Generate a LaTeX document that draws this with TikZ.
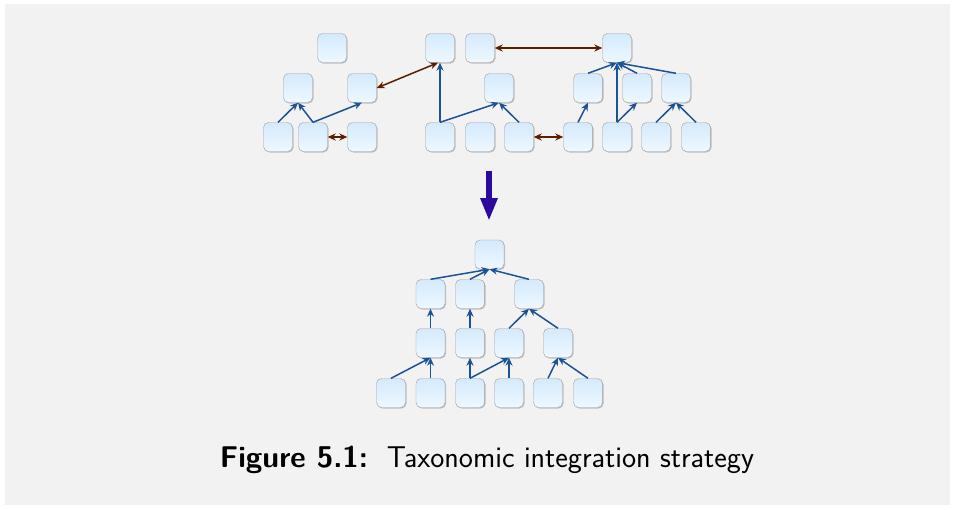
\documentclass[tikz,border=0pt]{standalone}
\usepackage{tikz}
\usetikzlibrary{arrows.meta, shadows, positioning}
\definecolor{boxtop}{HTML}{D4EAFC}
\definecolor{boxbot}{HTML}{EEF8FF}
\definecolor{boxline}{HTML}{A0A0A0}
\definecolor{isacol}{HTML}{1B5394}
\definecolor{matchcol}{HTML}{5A1E00}
\definecolor{mergecol}{HTML}{2C0A9E}
\definecolor{panel}{HTML}{F2F2F2}

\begin{document}
\begin{tikzpicture}[
            x = 1pt, y = 1pt, % pixel grid, y counted downwards as negative
            > = {Stealth[length=8pt,width=7pt]}, % arrow head style
            semithick % line style
        ]

        \tikzstyle{box}=[
            draw = boxline,
            thin,
            rounded corners = 5pt,
            minimum size = 29pt,
            inner sep = 0pt,
            top color = boxtop,
            bottom color = boxbot,
            drop shadow = {shadow xshift=1pt, shadow yshift=-1pt, fill=black!45, opacity=0.5}
        ]
        \tikzstyle{isa}=[->, color = isacol, line width = 1.5pt]
        \tikzstyle{match}=[<->, color = matchcol, line width = 1.5pt]

        % page
        \useasboundingbox (0,0) rectangle (955,-509);
        \fill[white] (0,0) rectangle (955,-509);
        \fill[panel] (5,-4) rectangle (950,-505);

	% source taxonomies, top row
        \node[box] (u1) at (332,-48) {};
        \node[box] (u2) at (440,-48) {};
        \node[box] (u3) at (480,-48) {};
        \node[box] (u4) at (617,-48) {};

        % middle row
        \node[box] (m1) at (298,-88) {};
        \node[box] (m2) at (362,-88) {};
        \node[box] (m3) at (499,-88) {};
        \node[box] (m4) at (588,-88) {};
        \node[box] (m5) at (637,-88) {};
        \node[box] (m6) at (676,-88) {};

        % leaves
        \node[box] (l1) at (278,-137) {};
        \node[box] (l2) at (313,-137) {};
        \node[box] (l3) at (362,-137) {};
        \node[box] (l4) at (440,-137) {};
        \node[box] (l5) at (480,-137) {};
        \node[box] (l6) at (519,-137) {};
        \node[box] (l7) at (578,-137) {};
        \node[box] (l8) at (617,-137) {};
        \node[box] (l9) at (656,-137) {};
        \node[box] (l10) at (696,-137) {};

        \path[isa] (l1.north) edge (m1.south);
        \path[isa] (l2.north) edge (m1.south);
        \path[isa] (l2.north) edge (m2.south);
        \path[isa] (l4.north) edge (u2.south);
        \path[isa] (l4.north) edge (m3.south);
        \path[isa] (l6.north) edge (m3.south);
        \path[isa] (l7.north) edge (m4.south);
        \path[isa] (m4.north) edge (u4.south);
        \path[isa] (l8.north) edge (u4.south);
        \path[isa] (l8.north) edge (m5.south);
        \path[isa] (m5.north) edge (u4.south);
        \path[isa] (m6.north) edge (u4.south);
        \path[isa] (l9.north) edge (m6.south);
        \path[isa] (l10.north) edge (m6.south);

        % correspondences
        \path[match] (m2.east) edge ([xshift=-2pt]u2.south);
        \path[match] (l2.east) edge (l3.west);
        \path[match] (u3.east) edge (u4.west);
        \path[match] (l6.east) edge (l7.west);

        % merge step
        \coordinate (mtop) at (489,-171);
        \coordinate (mbot) at (489,-221);
        \draw[line width = 6pt, draw = mergecol, -{Triangle[length=23pt,width=16pt]}] (mtop) -- (mbot);

        % integrated taxonomy
        \node[box] (r) at (489.5,-254.5) {};

        \node[box] (b1) at (430.5,-294) {};
        \node[box] (b2) at (470,-294) {};
        \node[box] (b3) at (529,-294) {};

        \node[box] (c1) at (430.5,-343) {};
        \node[box] (c2) at (470,-343) {};
        \node[box] (c3) at (509,-343) {};
        \node[box] (c4) at (558,-343) {};

        \node[box] (d1) at (391,-393) {};
        \node[box] (d2) at (430.5,-393) {};
        \node[box] (d3) at (470,-393) {};
        \node[box] (d4) at (509,-393) {};
        \node[box] (d5) at (548,-393) {};
        \node[box] (d6) at (588,-393) {};

        \path[isa] (b1.north) edge (r.south);
        \path[isa] (b2.north) edge (r.south);
        \path[isa] (b3.north) edge (r.south);
        \path[isa] (c1.north) edge (b1.south);
        \path[isa] (c2.north) edge (b2.south);
        \path[isa] (c3.north) edge (b3.south);
        \path[isa] (c4.north) edge (b3.south);
        \path[isa] (d1.north) edge (c1.south);
        \path[isa] (d2.north) edge (c1.south);
        \path[isa] (d3.north) edge (c2.south);
        \path[isa] (d3.north) edge (c3.south);
        \path[isa] (d4.north) edge (c3.south);
        \path[isa] (d5.north) edge (c4.south);
        \path[isa] (d6.north) edge (c4.south);

        % caption
        \node[anchor = base, inner sep = 0pt] (caption) at (487,-467)
            {\fontsize{30}{36}\selectfont\sffamily\textbf{Figure 5.1:}\ \ Taxonomic integration strategy};

  \end{tikzpicture}
\end{document}
